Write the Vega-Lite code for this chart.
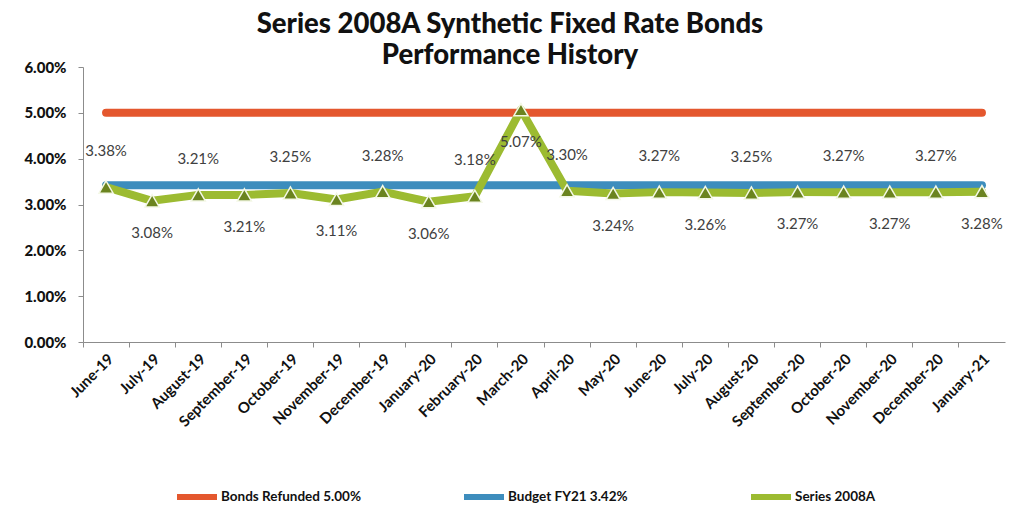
{
  "$schema": "https://vega.github.io/schema/vega-lite/v6.json",
  "autosize": "none",
  "padding": {"left": 83, "top": 67, "right": 5, "bottom": 166},
  "width": 922,
  "height": 275,
  "background": "white",
  "config": {"view": {"stroke": null}},
  "title": {
    "text": ["Series 2008A Synthetic Fixed Rate Bonds", "Performance History"],
    "anchor": "middle",
    "dx": -34,
    "font": "Lato",
    "fontWeight": 900,
    "fontSize": 27.5,
    "lineHeight": 31,
    "color": "#111111",
    "offset": -9
  },
  "data": {
    "values": [
      {"month": "June-19", "Series": 0.0338, "Refunded": 0.05, "Budget": 0.0342},
      {"month": "July-19", "Series": 0.0308, "Refunded": 0.05, "Budget": 0.0342},
      {"month": "August-19", "Series": 0.0321, "Refunded": 0.05, "Budget": 0.0342},
      {"month": "September-19", "Series": 0.0321, "Refunded": 0.05, "Budget": 0.0342},
      {"month": "October-19", "Series": 0.0325, "Refunded": 0.05, "Budget": 0.0342},
      {"month": "November-19", "Series": 0.0311, "Refunded": 0.05, "Budget": 0.0342},
      {"month": "December-19", "Series": 0.0328, "Refunded": 0.05, "Budget": 0.0342},
      {"month": "January-20", "Series": 0.0306, "Refunded": 0.05, "Budget": 0.0342},
      {"month": "February-20", "Series": 0.0318, "Refunded": 0.05, "Budget": 0.0342},
      {"month": "March-20", "Series": 0.0507, "Refunded": 0.05, "Budget": 0.0342},
      {"month": "April-20", "Series": 0.0330, "Refunded": 0.05, "Budget": 0.0342},
      {"month": "May-20", "Series": 0.0324, "Refunded": 0.05, "Budget": 0.0342},
      {"month": "June-20", "Series": 0.0327, "Refunded": 0.05, "Budget": 0.0342},
      {"month": "July-20", "Series": 0.0326, "Refunded": 0.05, "Budget": 0.0342},
      {"month": "August-20", "Series": 0.0325, "Refunded": 0.05, "Budget": 0.0342},
      {"month": "September-20", "Series": 0.0327, "Refunded": 0.05, "Budget": 0.0342},
      {"month": "October-20", "Series": 0.0327, "Refunded": 0.05, "Budget": 0.0342},
      {"month": "November-20", "Series": 0.0327, "Refunded": 0.05, "Budget": 0.0342},
      {"month": "December-20", "Series": 0.0327, "Refunded": 0.05, "Budget": 0.0342},
      {"month": "January-21", "Series": 0.0328, "Refunded": 0.05, "Budget": 0.0342}
    ]
  },
  "transform": [
    {"window": [{"op": "row_number", "as": "idx"}]}
  ],
  "encoding": {
    "x": {
      "field": "month",
      "type": "ordinal",
      "sort": null,
      "scale": {"type": "band", "paddingInner": 0, "paddingOuter": 0},
      "axis": {
        "title": null,
        "bandPosition": 0,
        "labelAngle": -45,
        "labelFont": "Lato",
        "labelFontWeight": "bold",
        "labelFontSize": 15,
        "labelColor": "#111111",
        "labelPadding": 4,
        "domainColor": "#8c8c8c",
        "tickColor": "#8c8c8c",
        "tickSize": 5,
        "grid": false
      }
    }
  },
  "layer": [
    {
      "transform": [
        {"fold": ["Refunded", "Budget", "Series"], "as": ["series", "rate"]}
      ],
      "mark": {"type": "line", "strokeWidth": 8, "strokeCap": "round", "strokeJoin": "round"},
      "encoding": {
        "y": {
          "field": "rate",
          "type": "quantitative",
          "scale": {"domain": [0, 0.06], "nice": false},
          "axis": {
            "title": null,
            "format": ".2%",
            "values": [0, 0.01, 0.02, 0.03, 0.04, 0.05, 0.06],
            "labelFont": "Lato",
            "labelFontWeight": 900,
            "labelFontSize": 15,
            "labelColor": "#111111",
            "labelPadding": 12,
            "domainColor": "#8c8c8c",
            "tickColor": "#8c8c8c",
            "tickSize": 5,
            "grid": false
          }
        },
        "color": {
          "field": "series",
          "type": "nominal",
          "scale": {
            "domain": ["Refunded", "Budget", "Series"],
            "range": ["#e4572e", "#3d8dbd", "#9cbb31"]
          },
          "legend": {
            "title": null,
            "orient": "none",
            "legendX": 91,
            "legendY": 407,
            "direction": "horizontal",
            "columns": 3,
            "gridAlign": "all",
            "columnPadding": 90,
            "symbolType": "stroke",
            "symbolSize": 1600,
            "symbolStrokeWidth": 6,
            "labelOffset": 1,
            "labelFont": "Lato",
            "labelFontWeight": "bold",
            "labelFontSize": 13.5,
            "labelColor": "#111111",
            "labelLimit": 300,
            "labelExpr": "datum.label == 'Refunded' ? 'Bonds Refunded 5.00%' : datum.label == 'Budget' ? 'Budget FY21 3.42%' : 'Series 2008A'"
          }
        }
      }
    },
    {
      "mark": {"type": "point", "shape": "triangle-up", "size": 200, "filled": true, "fill": "#6b841f", "stroke": "#f4f8e6", "strokeWidth": 1.5, "opacity": 1},
      "encoding": {
        "y": {"field": "Series", "type": "quantitative"}
      }
    },
    {
      "transform": [{"filter": "datum.idx % 2 == 1"}],
      "mark": {"type": "text", "dy": -36, "font": "Lato", "fontSize": 15, "color": "#404040"},
      "encoding": {
        "y": {"field": "Series", "type": "quantitative"},
        "text": {"field": "Series", "type": "quantitative", "format": ".2%"}
      }
    },
    {
      "transform": [{"filter": "datum.idx % 2 == 0"}],
      "mark": {"type": "text", "dy": 32, "font": "Lato", "fontSize": 15, "color": "#404040"},
      "encoding": {
        "y": {"field": "Series", "type": "quantitative"},
        "text": {"field": "Series", "type": "quantitative", "format": ".2%"}
      }
    }
  ]
}
